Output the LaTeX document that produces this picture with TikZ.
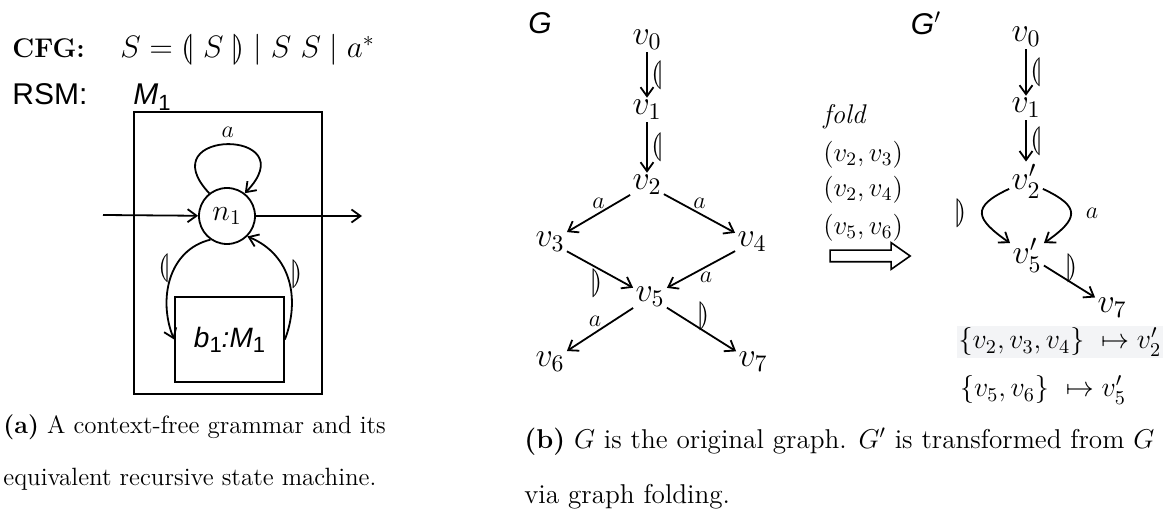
\documentclass[tikz,border=0pt]{standalone}
\usepackage{fix-cm}
\usepackage{amsmath}
\usepackage{stmaryrd}
\usepackage{fontspec}
\usetikzlibrary{arrows.meta, positioning, shapes.arrows}
\newfontfamily\helv{Liberation Sans}
\definecolor{mapGrey}{HTML}{F3F4F6}
% scalable banana brackets
\DeclareFontFamily{U}{stmry}{}
\DeclareFontShape{U}{stmry}{m}{n}{<-> stmary10}{}
\newcommand{\sanssub}[1]{\raisebox{-0.35ex}{\upshape\fontsize{11}{12}\selectfont #1}}

\begin{document}
\begin{tikzpicture}[x=0.5pt, y=-0.5pt,
    every node/.style={inner sep=1pt},
    vtx/.style={font=\fontsize{17}{19}\selectfont},
    lbl/.style={font=\fontsize{12}{14}\selectfont},
    brk/.style={font=\fontsize{14.5}{17}\selectfont},
    pair/.style={font=\fontsize{13.5}{15}\selectfont, anchor=west},
    sanslbl/.style={font=\fontsize{15}{18}\selectfont\helv},
    captext/.style={font=\fontsize{12.5}{15}\selectfont, anchor=base west, inner sep=0pt},
    edge/.style={-{Straight Barb[length=4.5pt,width=6.5pt]}, line width=0.9pt},
    box/.style={draw, line width=0.9pt, rectangle},
  ]
  \useasboundingbox (0,0) rectangle (1176,523);

  % (a) grammar and state machine
  \node[font=\fontsize{13.5}{16}\selectfont\bfseries, anchor=base west] (cfg) at (10,58) {CFG:};
  \node[font=\fontsize{15.5}{18}\selectfont, anchor=base west] (rule) at (118,58)
    {$S = \llparenthesis\ S\ \rrparenthesis \mid S\ S \mid a^*$};
  \node[sanslbl, anchor=base west] (rsm) at (10,105) {RSM:};
  \node[sanslbl, anchor=base west] (mname) at (131,105) {\itshape M\sanssub{1}};

  \node[box, minimum width=94pt, minimum height=141pt] (mbox) at (228,253) {};
  \node[draw, circle, line width=0.9pt, minimum size=28pt, font=\fontsize{15}{17}\selectfont] (n1) at (227,216) {$n_1$};
  \node[box, minimum width=54.5pt, minimum height=42.5pt, font=\fontsize{14}{16}\selectfont\helv\itshape] (blk) at (229.5,339.5)
    {b\sanssub{1}:M\sanssub{1}};

  \coordinate (inS) at (103,215);
  \coordinate (outE) at (362,216);
  \draw[edge] (inS) -- (n1);
  \draw[edge] (n1) -- (outE);
  \draw[edge] (n1.128) .. controls (148,128) and (308,128) .. (n1.52)
    node[lbl, pos=0.5, above=2pt] {$a$};
  \draw[edge] (n1.235) .. controls (168,250) and (158,300) .. (blk.west)
    node[brk, pos=0.4, left=1pt] {$\llparenthesis$};
  \draw[edge] (blk.east) .. controls (300,300) and (292,255) .. (n1.-45)
    node[brk, pos=0.55, right=1pt] {$\rrparenthesis$};

  \node[captext] (capa1) at (3,433) {\textbf{(a)} A context-free grammar and its};
  \node[captext] (capa2) at (3,485) {equivalent recursive state machine.};

  % (b) original graph G
  \node[sanslbl, font=\fontsize{15}{18}\selectfont\helv\itshape] (gname) at (540,23) {G};
  \node[vtx] (v0) at (647,40) {$v_0$};
  \node[vtx] (v1) at (647,110) {$v_1$};
  \node[vtx] (v2) at (647,185) {$v_2$};
  \node[vtx] (v3) at (550,242) {$v_3$};
  \node[vtx] (v4) at (752,242) {$v_4$};
  \node[vtx] (v5) at (650,297) {$v_5$};
  \node[vtx] (v6) at (550,362) {$v_6$};
  \node[vtx] (v7) at (753,362) {$v_7$};

  \draw[edge] (v0) -- node[brk, right=1pt] {$\llparenthesis$} (v1);
  \draw[edge] (v1) -- node[brk, right=1pt] {$\llparenthesis$} (v2);
  \draw[edge] (v2) -- node[lbl, above=1pt] {$a$} (v3);
  \draw[edge] (v2) -- node[lbl, above=1pt] {$a$} (v4);
  \draw[edge] (v3) -- node[brk, below left=-2pt and -3pt] {$\rrparenthesis$} (v5);
  \draw[edge] (v4) -- node[lbl, below right=0pt and -2pt] {$a$} (v5);
  \draw[edge] (v5) -- node[lbl, above left=0pt and -2pt] {$a$} (v6);
  \draw[edge] (v5) -- node[brk, above right=-2pt and -3pt] {$\rrparenthesis$} (v7);

  % folding step
  \node[pair] (fold) at (821,117) {\textit{fold}};
  \node[pair] (p23) at (821,155) {$(v_2, v_3)$};
  \node[pair] (p24) at (821,190) {$(v_2, v_4)$};
  \node[pair] (p56) at (821,228) {$(v_5, v_6)$};
  \node[single arrow, draw, line width=0.8pt, inner sep=2.5pt, minimum height=40pt,
        single arrow head extend=3.75pt, single arrow tip angle=70] (foldarrow) at (866,256) {};

  % folded graph G'
  \node[sanslbl, font=\fontsize{15}{18}\selectfont\helv\itshape] (gfname) at (926,23) {G$'$};
  \node[vtx] (w0) at (1026,37) {$v_0$};
  \node[vtx] (w1) at (1026,108) {$v_1$};
  \node[vtx] (w2) at (1026,181) {$v_2'$};
  \node[vtx] (w5) at (1027,255) {$v_5'$};
  \node[vtx] (w7) at (1112,308) {$v_7$};

  \draw[edge] (w0) -- node[brk, right=1pt] {$\llparenthesis$} (w1);
  \draw[edge] (w1) -- node[brk, right=1pt] {$\llparenthesis$} (w2);
  \draw[edge] (w2) to[out=205, in=145, looseness=2] node[brk, left=6pt] {$\rrparenthesis$} (w5);
  \draw[edge] (w2) to[out=-25, in=35, looseness=2] node[lbl, right=6pt] {$a$} (w5);
  \draw[edge] (w5) -- node[brk, above right=-2pt and -3pt] {$\rrparenthesis$} (w7);

  \node[fill=mapGrey, font=\fontsize{14}{16}\selectfont] (map1) at (1060,342)
    {$\{v_2, v_3, v_4\}\ \mapsto v_2'$};
  \node[font=\fontsize{14}{16}\selectfont] (map2) at (1043,390)
    {$\{v_5, v_6\}\ \mapsto v_5'$};

  \node[captext, font=\fontsize{13.6}{16}\selectfont] (capb1) at (524,448) {\textbf{(b)} $G$ is the original graph. $G'$ is transformed from $G$};
  \node[captext, font=\fontsize{13.6}{16}\selectfont] (capb2) at (524,503) {via graph folding.};
\end{tikzpicture}
\end{document}
